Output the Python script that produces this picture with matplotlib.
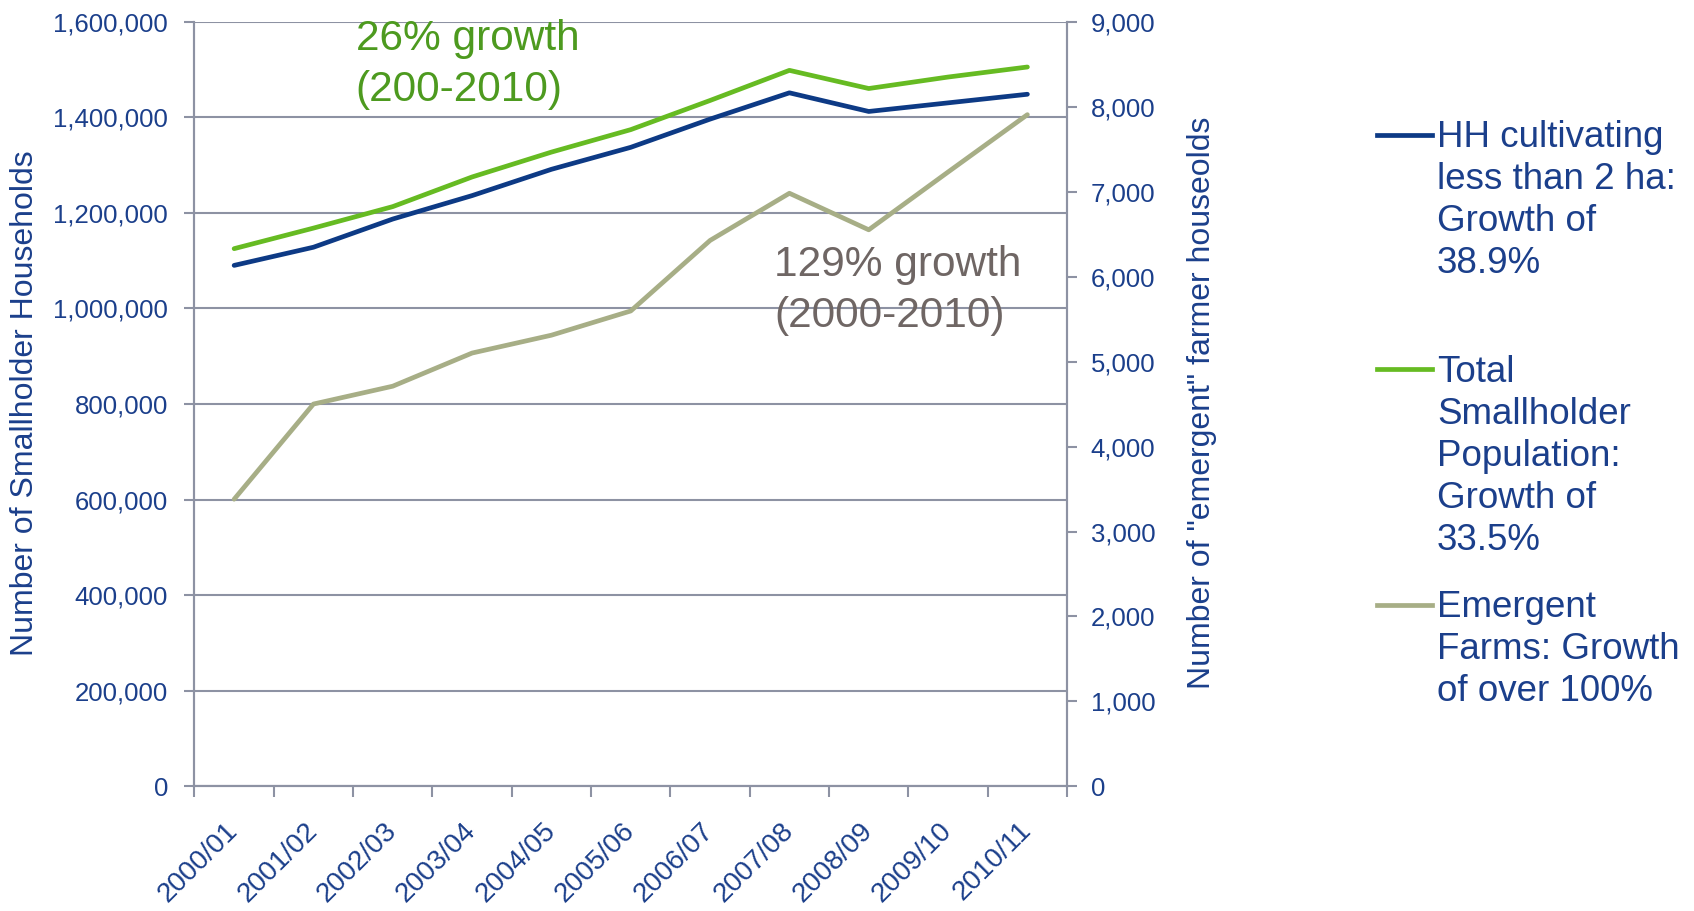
import matplotlib.pyplot as plt
from matplotlib.lines import Line2D
from matplotlib.ticker import FuncFormatter
import numpy as np

plt.rcParams['font.family'] = ['Liberation Sans', 'DejaVu Sans']

seasons = ["2000/01", "2001/02", "2002/03", "2003/04", "2004/05", "2005/06",
           "2006/07", "2007/08", "2008/09", "2009/10", "2010/11"]

# smallholder households (left axis)
hh_under_2ha = [1090000, 1128000, 1187000, 1236000, 1291000, 1337000,
                1396000, 1451000, 1412000, 1430000, 1448000]
total_smallholder = [1125000, 1168000, 1213000, 1275000, 1327000, 1374000,
                     1435000, 1498000, 1460000, 1484000, 1505000]

# emergent farmer households (right axis)
emergent = [3380, 4500, 4710, 5100, 5310, 5595, 6425, 6980, 6550, 7230, 7905]

legend_labels = ["HH cultivating\nless than 2 ha:\nGrowth of\n38.9%",
                 "Total\nSmallholder\nPopulation:\nGrowth of\n33.5%",
                 "Emergent\nFarms: Growth\nof over 100%"]

navy = '#0d3a85'
green = '#66bb22'
khaki = '#a7ae86'
text_blue = '#1b3f8b'
gridc = '#8d92a3'

fig = plt.figure(figsize=(16.94, 9.11), dpi=100)
ax = fig.add_axes([0.1148, 0.1367, 0.6299 - 0.1148, 0.9763 - 0.1367])
ax2 = ax.twinx()

x = np.arange(len(seasons))
ax.plot(x, hh_under_2ha, color=navy, lw=3.4, solid_capstyle='round', zorder=3)
ax.plot(x, total_smallholder, color=green, lw=3.4, solid_capstyle='round', zorder=3)
ax2.plot(x, emergent, color=khaki, lw=3.4, solid_capstyle='round', zorder=3)

ax.set_xlim(-0.5, len(seasons) - 0.5)
ax.set_ylim(0, 1600000)
ax2.set_ylim(0, 9000)
ax.set_yticks(np.arange(0, 1600001, 200000))
ax2.set_yticks(np.arange(0, 9001, 1000))
comma = FuncFormatter(lambda v, p: f"{int(v):,}")
ax.yaxis.set_major_formatter(comma)
ax2.yaxis.set_major_formatter(comma)

# boundary ticks, labels centred on each season
ax.set_xticks(np.arange(-0.5, len(seasons), 1.0))
ax.set_xticklabels([])
ax.set_xticks(x, minor=True)
ax.set_xticklabels(seasons, minor=True, rotation=45, ha='right', va='center',
                   rotation_mode='anchor', color=text_blue, fontsize=20)
ax.tick_params(axis='x', which='minor', length=0, pad=29)
ax.tick_params(axis='x', which='major', length=8, width=1.5, color=gridc)

ax.tick_params(axis='y', length=7, width=1.5, color=gridc, labelsize=18.5,
               labelcolor=text_blue, pad=12)
ax2.tick_params(axis='y', length=7, width=1.5, color=gridc, labelsize=18.5,
                labelcolor=text_blue, pad=10)

ax.grid(axis='y', color=gridc, lw=1.5)
ax.set_axisbelow(True)
for a in (ax, ax2):
    a.spines['top'].set_visible(False)
    for s in ('left', 'right', 'bottom'):
        a.spines[s].set_color(gridc)
        a.spines[s].set_linewidth(1.5)

fig.text(0.0148, 0.557, "Number of Smallholder Households", rotation=90,
         ha='center', va='center', color=text_blue, fontsize=23)
fig.text(0.7098, 0.558, 'Number of "emergent" farmer houseolds', rotation=90,
         ha='center', va='center', color=text_blue, fontsize=23)

fig.text(0.210, 0.979, "26% growth\n(200-2010)", ha='left', va='top',
         color='#4d9a1f', fontsize=30.5, linespacing=1.35)
fig.text(0.457, 0.731, "129% growth\n(2000-2010)", ha='left', va='top',
         color='#6f6664', fontsize=30.5, linespacing=1.35)

# legend drawn beside the plot
leg_colors = [navy, green, khaki]
leg_y = [135, 369.5, 605]
for lab, c, yy in zip(legend_labels, leg_colors, leg_y):
    fy = 1 - yy / 911
    fig.add_artist(Line2D([1377 / 1694, 1432 / 1694], [fy, fy],
                          transform=fig.transFigure, color=c, lw=3.4))
    fig.text(1437 / 1694, 1 - (yy - 15) / 911, lab, ha='left', va='top',
             color=text_blue, fontsize=26.5, linespacing=1.26)

fig.savefig('out.png', dpi=100)
